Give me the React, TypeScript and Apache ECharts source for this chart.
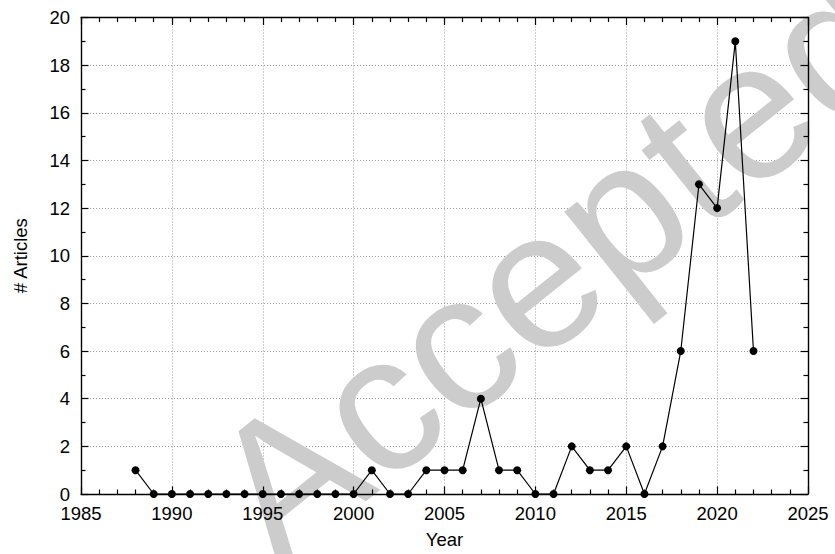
import React, { useEffect, useRef } from "react";
import * as echarts from "echarts";

const years = [
  1988, 1989, 1990, 1991, 1992, 1993, 1994, 1995, 1996, 1997, 1998, 1999, 2000,
  2001, 2002, 2003, 2004, 2005, 2006, 2007, 2008, 2009, 2010, 2011, 2012, 2013,
  2014, 2015, 2016, 2017, 2018, 2019, 2020, 2021, 2022,
];
const articles = [
  1, 0, 0, 0, 0, 0, 0, 0, 0, 0, 0, 0, 0,
  1, 0, 0, 1, 1, 1, 4, 1, 1, 0, 0, 2, 1,
  1, 2, 0, 2, 6, 13, 12, 19, 6,
];
const xMin = 1985;
const xMax = 2025;
const xStep = 5;
const yMin = 0;
const yMax = 20;
const yStep = 2;
const xName = "Year";
const yName = "# Articles";
const watermark = "Accepted";

const FONT = '"Liberation Sans", Arial, Helvetica, sans-serif';

export default function App() {
  const ref = useRef<HTMLDivElement>(null);
  useEffect(() => {
    document.body.style.margin = "0";
    const chart = echarts.init(ref.current!, null, { renderer: "svg" });
    const tickCommon = {
      show: true,
      inside: true,
      length: 7.5,
      lineStyle: { color: "#000", width: 1.2 },
    };
    const axisLineCommon = { show: true, onZero: false, lineStyle: { color: "#000", width: 1.4 } };
    const hiddenParts = {
      axisLine: { show: false },
      axisTick: { show: false },
      axisLabel: { show: false },
      minorTick: { show: false },
    };
    const gridLine = {
      show: true,
      lineStyle: { color: "#9a9a9a", width: 1, type: [1, 2] as any },
    };
    const data = years.map((y, i) => [y, articles[i]]);
    chart.setOption({
      animation: false,
      backgroundColor: "#fff",
      textStyle: { fontFamily: FONT },
      grid: { left: 81, right: 27, top: 17.5, bottom: 59, containLabel: false },
      xAxis: [
        {
          type: "value", min: xMin, max: xMax, interval: xStep, position: "bottom",
          ...hiddenParts, splitLine: gridLine, z: 0,
        },
        {
          type: "value", min: xMin, max: xMax, interval: xStep, position: "bottom",
          axisLine: axisLineCommon,
          axisTick: tickCommon,
          minorTick: { show: true, splitNumber: 5, length: 4.5, lineStyle: { color: "#000", width: 1.2 } },
          axisLabel: {
            show: true, color: "#000", fontSize: 18.5, fontFamily: FONT, margin: 10,
            formatter: (v: number) => String(v),
          },
          splitLine: { show: false },
          name: xName, nameLocation: "middle", nameGap: 36,
          nameTextStyle: { color: "#000", fontSize: 18.5, fontFamily: FONT },
          z: 5,
        },
        {
          type: "value", min: xMin, max: xMax, interval: xStep, position: "top",
          axisLine: axisLineCommon,
          axisTick: tickCommon,
          minorTick: { show: true, splitNumber: 5, length: 4.5, lineStyle: { color: "#000", width: 1.2 } },
          axisLabel: { show: false },
          splitLine: { show: false },
          z: 5,
        },
      ],
      yAxis: [
        {
          type: "value", min: yMin, max: yMax, interval: yStep, position: "left",
          ...hiddenParts, splitLine: gridLine, z: 0,
        },
        {
          type: "value", min: yMin, max: yMax, interval: yStep, position: "left",
          axisLine: axisLineCommon,
          axisTick: tickCommon,
          minorTick: { show: true, splitNumber: 2, length: 4.5, lineStyle: { color: "#000", width: 1.2 } },
          axisLabel: { show: true, color: "#000", fontSize: 18.5, fontFamily: FONT, margin: 11 },
          splitLine: { show: false },
          name: yName, nameLocation: "middle", nameGap: 51, nameRotate: 90,
          nameTextStyle: { color: "#000", fontSize: 18.5, fontFamily: FONT },
          z: 5,
        },
        {
          type: "value", min: yMin, max: yMax, interval: yStep, position: "right",
          axisLine: axisLineCommon,
          axisTick: tickCommon,
          minorTick: { show: true, splitNumber: 2, length: 4.5, lineStyle: { color: "#000", width: 1.2 } },
          axisLabel: { show: false },
          splitLine: { show: false },
          z: 5,
        },
      ],
      graphic: [
        {
          type: "text",
          x: 555,
          y: 264,
          rotation: (38.5 * Math.PI) / 180,
          z: 1,
          silent: true,
          style: {
            text: watermark,
            font: `195px ${FONT}`,
            fill: "#cccccc",
            align: "center",
            verticalAlign: "middle",
            textAlign: "center",
            textVerticalAlign: "middle",
          },
        },
      ],
      series: [
        {
          type: "line",
          xAxisIndex: 1,
          yAxisIndex: 1,
          data,
          symbol: "circle",
          symbolSize: 8,
          showSymbol: true,
          itemStyle: { color: "#000" },
          lineStyle: { color: "#000", width: 1.2 },
          z: 3,
        },
      ],
    });
    return () => chart.dispose();
  }, []);
  return (
    <div
      ref={ref}
      style={{ position: "absolute", left: 0, top: 0, width: 835, height: 554 }}
    />
  );
}
